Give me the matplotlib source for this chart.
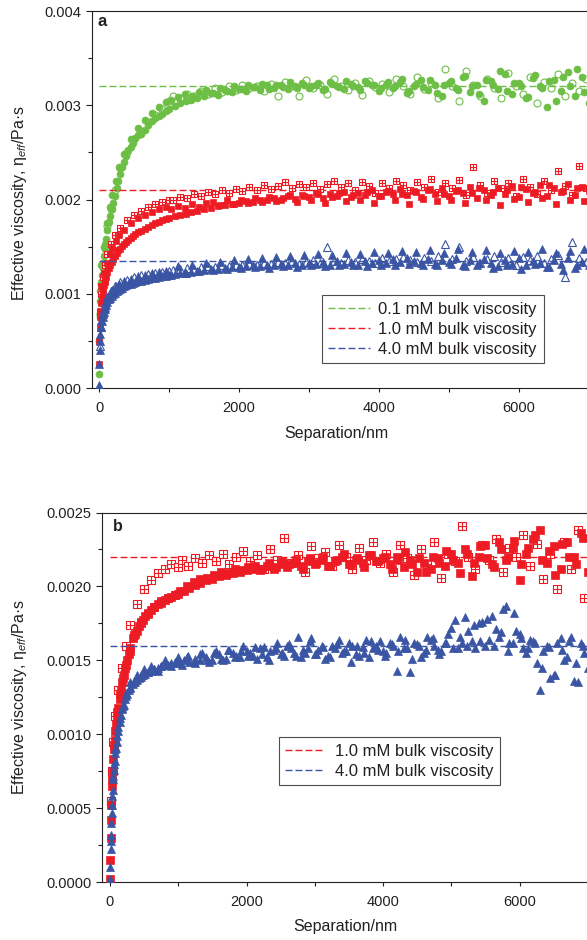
import numpy as np
import matplotlib
matplotlib.use('Agg')
import matplotlib.pyplot as plt
from matplotlib.path import Path
from matplotlib.lines import Line2D
from matplotlib.ticker import MultipleLocator, FormatStrFormatter

plt.rcParams['font.family'] = ['Liberation Sans', 'DejaVu Sans']
plt.rcParams['mathtext.fontset'] = 'custom'
plt.rcParams['mathtext.rm'] = 'Liberation Sans'
plt.rcParams['mathtext.it'] = 'Liberation Sans:italic'

# ---------------- data (separation in nm, viscosity in mPa·s) ----------------
sep_grid = [0, 5, 10, 15, 20, 30, 40, 50, 60, 70, 80, 90, 100, 120, 140, 160, 180, 200,
            225, 250, 275, 300, 330, 360, 390, 420, 450, 480, 520, 560, 600, 650, 700,
            750, 800, 850, 900, 950, 1000, 1080, 1160, 1240, 1320, 1400,
            1500, 1600, 1700, 1800, 1900, 2000, 2100, 2200, 2300, 2400, 2500, 2600,
            2700, 2800, 2900, 3000, 3100, 3200, 3300, 3400, 3500, 3600, 3700, 3800,
            3900, 4000, 4100, 4200, 4300, 4400, 4500, 4600, 4700, 4800, 4900, 5000,
            5100, 5200, 5300, 5400, 5500, 5600, 5700, 5800, 5900, 6000, 6100, 6200,
            6300, 6400, 6500, 6600, 6700, 6800, 6900, 7000]
sep_grid_open = [10, 25, 50, 80, 120, 170, 230, 300, 400, 500, 600, 700, 800, 900, 1000,
                 1050, 1150, 1250, 1350, 1450, 1550, 1650, 1750, 1850, 1950,
                 2050, 2150, 2250, 2350, 2450, 2550, 2650, 2750, 2850, 2950,
                 3050, 3150, 3250, 3350, 3450, 3550, 3650, 3750, 3850, 3950,
                 4050, 4150, 4250, 4350, 4450, 4550, 4650, 4750, 4850, 4950,
                 5050, 5150, 5250, 5350, 5450, 5550, 5650, 5750, 5850, 5950,
                 6050, 6150, 6250, 6350, 6450, 6550, 6650, 6750, 6850, 6950]
sep_grid_mid = [35, 65, 110, 150, 190, 240, 290, 350, 450, 550, 650, 750, 850, 950,
                1025, 1125, 1225, 1325, 1425, 1525, 1625, 1725, 1825, 1925,
                2025, 2125, 2225, 2325, 2425, 2525, 2625, 2725, 2825, 2925,
                3025, 3125, 3225, 3325, 3425, 3525, 3625, 3725, 3825, 3925,
                4025, 4125, 4225, 4325, 4425, 4525, 4625, 4725, 4825, 4925,
                5025, 5125, 5225, 5325, 5425, 5525, 5625, 5725, 5825, 5925,
                6025, 6125, 6225, 6325, 6425, 6525, 6625, 6725, 6825, 6925]

# panel a
green_a_filled = [0.15, 0.5, 0.75, 0.92, 1.03, 1.12, 1.2, 1.27, 1.33, 1.4, 1.47, 1.53, 1.58,
                  1.68, 1.76, 1.83, 1.9, 1.96, 2.04, 2.12, 2.2, 2.27, 2.34, 2.4, 2.46, 2.52,
                  2.56, 2.6, 2.65, 2.68, 2.7, 2.74, 2.79, 2.83, 2.86, 2.89, 2.91, 2.94, 2.96,
                  2.99, 3.02, 3.04, 3.06, 3.08,
                  3.10, 3.13, 3.11, 3.16, 3.14, 3.17, 3.15, 3.19, 3.16, 3.21,
                  3.18, 3.22, 3.17, 3.20, 3.24, 3.18, 3.21, 3.16, 3.25, 3.20,
                  3.17, 3.23, 3.19, 3.26, 3.21, 3.15, 3.22, 3.18, 3.25, 3.13,
                  3.20, 3.27, 3.16, 3.22, 3.10, 3.24, 3.18, 3.30, 3.14, 3.22,
                  3.05, 3.26, 3.17, 3.33, 3.12, 3.24, 3.08, 3.29, 3.20, 2.98,
                  3.27, 3.15, 3.35, 3.10, 3.30, 3.02]
green_a_open = [0.78, 1.1, 1.3, 1.5, 1.72, 1.9, 2.1, 2.33, 2.5, 2.64, 2.73, 2.82, 2.9, 2.96, 3.05,
                3.10, 3.08, 3.12, 3.10, 3.15, 3.12, 3.18, 3.14, 3.20, 3.16,
                3.22, 3.18, 3.20, 3.15, 3.23, 3.10, 3.25, 3.20, 3.10, 3.27,
                3.18, 3.22, 3.12, 3.28, 3.20, 3.16, 3.24, 3.11, 3.26, 3.19,
                3.23, 3.14, 3.28, 3.20, 3.12, 3.30, 3.17, 3.24, 3.08, 3.38,
                3.20, 3.05, 3.36, 3.22, 3.10, 3.28, 3.18, 3.08, 3.34, 3.20,
                3.12, 3.30, 3.02, 3.25, 3.18, 3.33, 3.10, 3.24, 3.15, 3.28]
green_a_mid = [1.3, 1.5, 1.75, 1.92, 2.05, 2.2, 2.35, 2.48, 2.64, 2.76, 2.84, 2.92, 2.98, 3.03,
               3.06, 3.09, 3.12, 3.10, 3.14, 3.16, 3.13, 3.18, 3.15, 3.20,
               3.17, 3.21, 3.19, 3.23, 3.17, 3.22, 3.19, 3.25, 3.18, 3.22,
               3.20, 3.24, 3.17, 3.23, 3.19, 3.26, 3.20, 3.16, 3.24, 3.21,
               3.18, 3.25, 3.20, 3.28, 3.15, 3.23, 3.19, 3.27, 3.13, 3.22,
               3.26, 3.16, 3.31, 3.20, 3.12, 3.27, 3.22, 3.36, 3.15, 3.24,
               3.20, 3.09, 3.32, 3.18, 3.26, 3.05, 3.30, 3.20, 3.38, 3.14]
red_a_filled = [0.25, 0.5, 0.65, 0.75, 0.82, 0.9, 0.96, 1.01, 1.05, 1.09, 1.12, 1.15, 1.18,
                1.23, 1.27, 1.31, 1.34, 1.37, 1.4, 1.43, 1.46, 1.48, 1.51, 1.53, 1.55, 1.57,
                1.59, 1.61, 1.63, 1.65, 1.67, 1.69, 1.71, 1.73, 1.75, 1.76, 1.78, 1.79, 1.8,
                1.82, 1.84, 1.85, 1.87, 1.88,
                1.90, 1.91, 1.93, 1.94, 1.95, 1.96, 1.98, 1.97, 2.00, 1.99,
                2.02, 2.00, 2.04, 2.01, 2.05, 2.03, 2.07, 2.02, 2.06, 2.04,
                2.08, 2.03, 2.07, 2.05, 2.10, 2.04, 2.08, 2.06, 2.11, 2.05,
                2.09, 2.03, 2.10, 2.06, 2.12, 2.04, 2.09, 2.07, 2.13, 2.02,
                2.10, 2.05, 2.12, 2.06, 2.14, 2.03, 2.11, 2.07, 2.15, 2.04,
                2.12, 2.08, 2.16, 2.05, 2.13, 2.09]
red_a_open = [0.8, 1.0, 1.18, 1.3, 1.42, 1.53, 1.62, 1.7, 1.78, 1.84, 1.88, 1.92, 1.95, 1.97, 1.99,
              2.00, 2.03, 2.02, 2.06, 2.04, 2.08, 2.06, 2.10, 2.07, 2.11,
              2.09, 2.13, 2.10, 2.15, 2.11, 2.14, 2.19, 2.12, 2.16, 2.13,
              2.18, 2.11, 2.16, 2.20, 2.13, 2.17, 2.10, 2.19, 2.14, 2.07,
              2.17, 2.12, 2.20, 2.15, 2.10, 2.19, 2.13, 2.22, 2.08, 2.17,
              2.12, 2.21, 2.05, 2.34, 2.15, 2.07, 2.20, 2.12, 2.18, 2.04,
              2.22, 2.13, 2.06, 2.20, 2.10, 2.30, 2.14, 2.05, 2.36, 2.12]
red_a_mid = [1.08, 1.22, 1.33, 1.42, 1.49, 1.56, 1.62, 1.68, 1.75, 1.80, 1.84, 1.87, 1.90, 1.92,
             1.90, 1.93, 1.91, 1.95, 1.92, 1.96, 1.97, 1.94, 1.99, 1.95,
             2.00, 1.96, 2.02, 1.97, 2.03, 1.98, 2.02, 2.05, 1.97, 2.04,
             1.99, 2.06, 1.96, 2.03, 2.07, 1.98, 2.05, 2.00, 2.08, 1.96,
             2.04, 2.09, 1.99, 2.06, 1.95, 2.08, 2.01, 2.11, 1.98, 2.06,
             2.00, 2.10, 1.96, 2.07, 2.12, 1.99, 2.08, 1.94, 2.10, 2.01,
             2.13, 1.97, 2.08, 2.02, 2.15, 1.95, 2.09, 2.00, 2.12, 1.98]
blue_a_filled = [0.03, 0.25, 0.4, 0.5, 0.57, 0.65, 0.71, 0.75, 0.78, 0.81, 0.84, 0.86, 0.88,
                 0.91, 0.94, 0.96, 0.98, 1.0, 1.01, 1.03, 1.04, 1.05, 1.06, 1.08, 1.09, 1.1,
                 1.1, 1.11, 1.12, 1.13, 1.14, 1.15, 1.16, 1.17, 1.17, 1.18, 1.19, 1.19, 1.2,
                 1.21, 1.22, 1.22, 1.23, 1.24,
                 1.25, 1.26, 1.26, 1.27, 1.28, 1.28, 1.29, 1.30, 1.29, 1.31,
                 1.30, 1.32, 1.30, 1.33, 1.31, 1.33, 1.32, 1.34, 1.31, 1.35,
                 1.32, 1.34, 1.31, 1.35, 1.33, 1.36, 1.33, 1.37, 1.34, 1.38,
                 1.35, 1.33, 1.37, 1.32, 1.36, 1.34, 1.38, 1.31, 1.36, 1.30,
                 1.37, 1.33, 1.29, 1.36, 1.32, 1.38, 1.30, 1.35, 1.33, 1.28,
                 1.36, 1.32, 1.38, 1.27, 1.34, 1.30]
blue_a_open = [0.45, 0.65, 0.8, 0.9, 0.97, 1.03, 1.08, 1.12, 1.15, 1.18, 1.2, 1.21, 1.22, 1.23, 1.24,
               1.25, 1.26, 1.27, 1.26, 1.28, 1.29, 1.28, 1.30, 1.29, 1.31,
               1.30, 1.32, 1.31, 1.33, 1.32, 1.34, 1.33, 1.35, 1.32, 1.34,
               1.36, 1.33, 1.50, 1.35, 1.33, 1.36, 1.34, 1.37, 1.35, 1.33,
               1.38, 1.35, 1.37, 1.39, 1.36, 1.34, 1.38, 1.35, 1.40, 1.53,
               1.37, 1.50, 1.35, 1.39, 1.33, 1.37, 1.40, 1.34, 1.38, 1.31,
               1.39, 1.36, 1.40, 1.33, 1.37, 1.41, 1.18, 1.55, 1.38, 1.34]
blue_a_mid = [0.72, 0.84, 0.94, 1.00, 1.04, 1.08, 1.10, 1.13, 1.16, 1.19, 1.20, 1.22, 1.23, 1.24,
              1.20, 1.29, 1.22, 1.31, 1.24, 1.33, 1.25, 1.34, 1.26, 1.36,
              1.27, 1.37, 1.28, 1.38, 1.27, 1.39, 1.29, 1.40, 1.28, 1.41,
              1.30, 1.42, 1.29, 1.41, 1.30, 1.43, 1.31, 1.42, 1.29, 1.44,
              1.31, 1.43, 1.30, 1.45, 1.32, 1.44, 1.30, 1.46, 1.31, 1.43,
              1.32, 1.47, 1.29, 1.44, 1.33, 1.46, 1.27, 1.43, 1.31, 1.45,
              1.26, 1.44, 1.32, 1.47, 1.28, 1.43, 1.25, 1.45, 1.30, 1.48]

# panel b
red_b_filled = [0.02, 0.15, 0.3, 0.42, 0.52, 0.65, 0.75, 0.83, 0.9, 0.96, 1.02, 1.07, 1.11,
                1.18, 1.24, 1.3, 1.35, 1.4, 1.45, 1.5, 1.54, 1.58, 1.65, 1.68, 1.70, 1.73,
                1.75, 1.77, 1.8, 1.82, 1.84, 1.86, 1.88, 1.9, 1.91, 1.92, 1.93, 1.94, 1.95,
                1.97, 1.99, 2.01, 2.02, 2.04,
                2.05, 2.07, 2.08, 2.09, 2.10, 2.11, 2.12, 2.11, 2.14, 2.12,
                2.15, 2.13, 2.16, 2.14, 2.17, 2.15, 2.18, 2.14, 2.17, 2.20,
                2.15, 2.18, 2.16, 2.21, 2.17, 2.19, 2.15, 2.20, 2.13, 2.18,
                2.10, 2.16, 2.12, 2.19, 2.14, 2.22, 2.16, 2.25, 2.07, 2.20,
                2.28, 2.15, 2.30, 2.18, 2.26, 2.04, 2.22, 2.32, 2.38, 2.16,
                2.27, 2.12, 2.30, 2.20, 2.36, 2.10]
red_b_open = [0.55, 0.75, 0.95, 1.12, 1.3, 1.45, 1.6, 1.74, 1.88, 1.98, 2.04, 2.09, 2.12, 2.15, 2.13,
              2.18, 2.14, 2.19, 2.16, 2.21, 2.17, 2.22, 2.15, 2.20, 2.24,
              2.17, 2.21, 2.12, 2.25, 2.18, 2.33, 2.16, 2.21, 2.10, 2.27,
              2.19, 2.23, 2.14, 2.28, 2.20, 2.12, 2.26, 2.18, 2.30, 2.16,
              2.22, 2.10, 2.28, 2.19, 2.08, 2.25, 2.15, 2.30, 2.06, 2.22,
              2.17, 2.41, 2.20, 2.12, 2.28, 2.18, 2.32, 2.10, 2.26, 2.20,
              2.35, 2.14, 2.29, 2.05, 2.22, 1.98, 2.30, 2.12, 2.38, 1.92]
red_b_mid = [0.70, 0.93, 1.15, 1.27, 1.38, 1.47, 1.56, 1.67, 1.76, 1.81, 1.86, 1.89, 1.92, 1.94,
             1.97, 2.00, 2.03, 2.05, 2.06, 2.08, 2.10, 2.09, 2.12, 2.11,
             2.13, 2.14, 2.12, 2.16, 2.13, 2.17, 2.15, 2.18, 2.12, 2.19,
             2.16, 2.20, 2.14, 2.18, 2.22, 2.15, 2.19, 2.13, 2.21, 2.17,
             2.20, 2.12, 2.18, 2.23, 2.15, 2.19, 2.10, 2.20, 2.16, 2.24,
             2.18, 2.09, 2.22, 2.16, 2.27, 2.19, 2.13, 2.25, 2.20, 2.31,
             2.15, 2.26, 2.35, 2.18, 2.24, 2.08, 2.29, 2.20, 2.15, 2.33]
blue_b_main = [0.02, 0.1, 0.22, 0.32, 0.4, 0.52, 0.62, 0.7, 0.76, 0.82, 0.87, 0.91, 0.95,
               1.02, 1.08, 1.13, 1.17, 1.2, 1.24, 1.27, 1.3, 1.32, 1.34, 1.35, 1.37, 1.38,
               1.39, 1.4, 1.41, 1.42, 1.43, 1.44, 1.45, 1.46, 1.47, 1.47, 1.48, 1.48, 1.49,
               1.5, 1.49, 1.51, 1.5, 1.52,
               1.50, 1.54, 1.51, 1.55, 1.52, 1.56, 1.53, 1.58, 1.52, 1.57,
               1.54, 1.60, 1.55, 1.52, 1.58, 1.54, 1.60, 1.53, 1.58, 1.55,
               1.62, 1.54, 1.59, 1.52, 1.60, 1.56, 1.62, 1.43, 1.58, 1.42,
               1.61, 1.55, 1.64, 1.57, 1.62, 1.72, 1.58, 1.79, 1.63, 1.75,
               1.60, 1.80, 1.66, 1.87, 1.62, 1.68, 1.55, 1.63, 1.30, 1.60,
               1.40, 1.65, 1.52, 1.36, 1.62, 1.45]
blue_b_extra = [0.28, 0.47, 0.72, 0.9, 1.05, 1.18, 1.28, 1.35, 1.4, 1.44, 1.46, 1.43, 1.5, 1.46, 1.52,
                1.47, 1.53, 1.48, 1.55, 1.49, 1.56, 1.50, 1.57, 1.53, 1.60,
                1.55, 1.51, 1.59, 1.56, 1.62, 1.53, 1.58, 1.66, 1.55, 1.65,
                1.57, 1.51, 1.60, 1.64, 1.56, 1.60, 1.53, 1.64, 1.58, 1.63,
                1.55, 1.60, 1.66, 1.58, 1.62, 1.52, 1.66, 1.60, 1.56, 1.68,
                1.77, 1.62, 1.70, 1.58, 1.76, 1.64, 1.71, 1.85, 1.62, 1.70,
                1.58, 1.64, 1.48, 1.56, 1.38, 1.62, 1.50, 1.66, 1.35, 1.55]
blue_b_mid = [0.58, 0.80, 0.99, 1.11, 1.19, 1.26, 1.31, 1.36, 1.40, 1.42, 1.44, 1.46, 1.47, 1.49,
              1.48, 1.52, 1.49, 1.54, 1.50, 1.55, 1.51, 1.57, 1.52, 1.56,
              1.53, 1.59, 1.54, 1.50, 1.58, 1.55, 1.61, 1.53, 1.57, 1.63,
              1.54, 1.59, 1.52, 1.61, 1.56, 1.49, 1.60, 1.55, 1.63, 1.57,
              1.53, 1.61, 1.56, 1.64, 1.51, 1.60, 1.57, 1.65, 1.54, 1.62,
              1.58, 1.66, 1.60, 1.74, 1.63, 1.78, 1.60, 1.69, 1.56, 1.82,
              1.65, 1.58, 1.62, 1.45, 1.59, 1.40, 1.57, 1.63, 1.48, 1.60]

bulk_labels_a = ['0.1 mM bulk viscosity', '1.0 mM bulk viscosity', '4.0 mM bulk viscosity']
bulk_values_a = [3.2, 2.1, 1.35]
bulk_labels_b = ['1.0 mM bulk viscosity', '4.0 mM bulk viscosity']
bulk_values_b = [2.2, 1.6]

MPAS = 1e-3  # mPa·s -> Pa·s

# ---------------- styling ----------------
GREEN = '#6cbe45'
RED = '#ed1c24'
BLUE = '#3a55a4'
INK = '#231f20'

# square-with-cross marker
_v = [(-1, -1), (1, -1), (1, 1), (-1, 1), (-1, -1), (0, -1), (0, 1), (-1, 0), (1, 0)]
_c = [Path.MOVETO, Path.LINETO, Path.LINETO, Path.LINETO, Path.CLOSEPOLY,
      Path.MOVETO, Path.LINETO, Path.MOVETO, Path.LINETO]
GRIDSQ = Path(_v, _c)

W, H = 587, 940
fig = plt.figure(figsize=(W / 100, H / 100), dpi=100)


def px_axes(l, t, r, b):
    return fig.add_axes([l / W, 1 - b / H, (r - l) / W, (b - t) / H])


ax_a = px_axes(92, 11, 624, 388)
ax_b = px_axes(102, 512.5, 622, 882)

DASH = (0, (5, 2.2))


def y(vals):
    return np.asarray(vals) * MPAS


def style(ax, xlim, ylim, ymaj, ymin, yfmt):
    ax.set_xlim(*xlim)
    ax.set_ylim(*ylim)
    ax.xaxis.set_major_locator(MultipleLocator(2000))
    ax.xaxis.set_minor_locator(MultipleLocator(1000))
    ax.yaxis.set_major_locator(MultipleLocator(ymaj))
    ax.yaxis.set_minor_locator(MultipleLocator(ymin))
    ax.yaxis.set_major_formatter(FormatStrFormatter(yfmt))
    ax.tick_params(which='both', direction='out', color=INK, labelcolor=INK,
                   labelsize=10.5, width=0.8)
    ax.tick_params(axis='y', which='major', length=4.5, pad=3)
    ax.tick_params(axis='y', which='minor', length=3)
    ax.tick_params(axis='x', which='both', length=3, pad=6)
    for s in ax.spines.values():
        s.set_linewidth(0.8)
        s.set_color(INK)


def draw_open(ax, xs, vals, mk, ms, col, z):
    if mk == 's':
        ax.plot(xs, y(vals), ls='none', marker=GRIDSQ, ms=ms, mfc='white',
                mec=col, mew=0.8, zorder=z)
    else:
        ax.plot(xs, y(vals), ls='none', marker=mk, ms=ms, mfc='none',
                mec=col, mew=0.8, zorder=z)


def draw_filled(ax, xs, vals, mk, ms, col, z):
    ax.plot(xs, y(vals), ls='none', marker=mk, ms=ms, color=col,
            mec=col, mew=0.5, zorder=z)


YLABEL = 'Effective viscosity, η$_{\\mathit{eff}}$/Pa·s'
LEG_KW = dict(loc='upper left', borderaxespad=0, frameon=True, fancybox=False,
              edgecolor=INK, fontsize=12, labelspacing=0.3, borderpad=0.4)

# ---------------- panel a ----------------
style(ax_a, (-100, 7500), (0, 0.004), 0.001, 0.0005, '%.3f')
xmax_a = ax_a.get_xlim()[1]
series_a = [
    (GREEN, 'o', 5.0, green_a_filled, green_a_open, green_a_mid),
    (RED, 's', 4.6, red_a_filled, red_a_open, red_a_mid),
    (BLUE, '^', 5.2, blue_a_filled, blue_a_open, blue_a_mid),
]
handles_a = []
z = 2
for (col, mk, ms, filled, opened, mid), val in zip(series_a, bulk_values_a):
    ax_a.hlines(val * MPAS, 0, xmax_a, colors=col, linestyles=DASH, lw=1.0, zorder=z)
    handles_a.append(Line2D([], [], color=col, ls=DASH, lw=1.0))
    draw_open(ax_a, sep_grid_open, opened, mk, ms, col, z + 1)
    draw_filled(ax_a, sep_grid, filled, mk, ms, col, z + 1)
    draw_filled(ax_a, sep_grid_mid, mid, mk, ms, col, z + 1)
    z += 2

ax_a.set_ylabel(YLABEL, fontsize=11.5, color=INK, va='center')
ax_a.yaxis.set_label_coords(-0.137, 0.49)
ax_a.set_xlabel('Separation/nm', fontsize=11.5, color=INK)
ax_a.xaxis.set_label_coords(0.459, -0.1)
ax_a.text(0.011, 0.993, 'a', transform=ax_a.transAxes, ha='left', va='top',
          fontsize=12, fontweight='bold', color=INK)
leg_a = ax_a.legend(handles_a, bulk_labels_a, bbox_to_anchor=(0.432, 0.2467),
                    handlelength=2.5, handletextpad=0.5, **LEG_KW)
leg_a.get_frame().set_linewidth(0.8)
for t in leg_a.get_texts():
    t.set_color(INK)

# ---------------- panel b ----------------
style(ax_b, (-117, 7500), (0, 0.0025), 0.0005, 0.00025, '%.4f')
xmax_b = ax_b.get_xlim()[1]
handles_b = []
ax_b.hlines(bulk_values_b[0] * MPAS, 0, xmax_b, colors=RED, linestyles=DASH, lw=1.0, zorder=2)
handles_b.append(Line2D([], [], color=RED, ls=DASH, lw=1.0))
draw_open(ax_b, sep_grid_open, red_b_open, 's', 5.2, RED, 3)
draw_filled(ax_b, sep_grid, red_b_filled, 's', 5.2, RED, 3)
draw_filled(ax_b, sep_grid_mid, red_b_mid, 's', 5.2, RED, 3)
ax_b.hlines(bulk_values_b[1] * MPAS, 0, xmax_b, colors=BLUE, linestyles=DASH, lw=1.0, zorder=4)
handles_b.append(Line2D([], [], color=BLUE, ls=DASH, lw=1.0))
draw_filled(ax_b, sep_grid, blue_b_main, '^', 5.4, BLUE, 5)
draw_filled(ax_b, sep_grid_open, blue_b_extra, '^', 5.4, BLUE, 5)
draw_filled(ax_b, sep_grid_mid, blue_b_mid, '^', 5.4, BLUE, 5)

ax_b.set_ylabel(YLABEL, fontsize=11.5, color=INK, va='center')
ax_b.yaxis.set_label_coords(-0.158, 0.5)
ax_b.set_xlabel('Separation/nm', fontsize=11.5, color=INK)
ax_b.xaxis.set_label_coords(0.467, -0.1)
ax_b.text(0.021, 0.983, 'b', transform=ax_b.transAxes, ha='left', va='top',
          fontsize=11.5, fontweight='bold', color=INK)
leg_b = ax_b.legend(handles_b, bulk_labels_b, bbox_to_anchor=(0.340, 0.392),
                    handlelength=2.3, handletextpad=0.65, **LEG_KW)
leg_b.get_frame().set_linewidth(0.8)
for t in leg_b.get_texts():
    t.set_color(INK)

fig.savefig('out.png', dpi=100)
